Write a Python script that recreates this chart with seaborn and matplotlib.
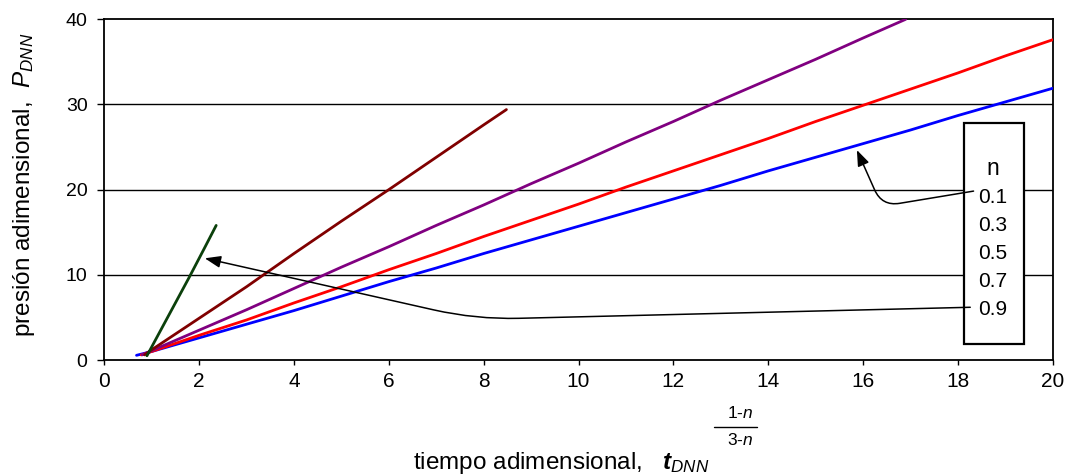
import matplotlib
matplotlib.use("Agg")
import matplotlib.pyplot as plt
from matplotlib.patches import Rectangle
from matplotlib.lines import Line2D
import seaborn as sns
import pandas as pd

# ---------------- data ----------------
n_labels = ["0.1", "0.3", "0.5", "0.7", "0.9"]
line_colors = ["#0000FF", "#FF0000", "#800080", "#800000", "#0B400B"]

x_n01 = [0.68, 1, 2, 3, 4, 5, 6, 7, 8, 9, 10, 11, 12, 13, 14, 15, 16, 17, 18, 19, 20]
y_n01 = [0.55, 1.0, 2.6, 4.2, 5.8, 7.5, 9.2, 10.8, 12.5, 14.1, 15.7, 17.3, 18.9, 20.5, 22.2, 23.8, 25.4, 27.0, 28.7, 30.3, 31.9]

x_n03 = [0.78, 1, 2, 3, 4, 5, 6, 7, 8, 9, 10, 11, 12, 13, 14, 15, 16, 17, 18, 19, 20]
y_n03 = [0.6, 1.0, 2.9, 4.7, 6.7, 8.6, 10.6, 12.5, 14.5, 16.4, 18.3, 20.3, 22.2, 24.1, 26.0, 28.0, 29.9, 31.8, 33.7, 35.7, 37.6]

x_n05 = [0.8, 1, 2, 3, 4, 5, 6, 7, 8, 9, 10, 11, 12, 13, 14, 15, 16, 16.9]
y_n05 = [0.6, 1.1, 3.5, 5.9, 8.4, 10.9, 13.3, 15.8, 18.2, 20.7, 23.1, 25.6, 28.0, 30.5, 32.9, 35.3, 37.8, 40.0]

x_n07 = [0.85, 1, 2, 3, 4, 5, 6, 7, 8, 8.48]
y_n07 = [0.6, 1.2, 4.9, 8.6, 12.5, 16.3, 20.0, 23.8, 27.6, 29.4]

x_n09 = [0.9, 1.2, 1.5, 1.8, 2.1, 2.36]
y_n09 = [0.5, 3.6, 6.7, 9.8, 13.0, 15.8]

x_ticks = [0, 2, 4, 6, 8, 10, 12, 14, 16, 18, 20]
y_ticks = [0, 10, 20, 30, 40]

frames = []
for lab, xs, ys in zip(n_labels,
                       [x_n01, x_n03, x_n05, x_n07, x_n09],
                       [y_n01, y_n03, y_n05, y_n07, y_n09]):
    frames.append(pd.DataFrame({"t": xs, "P": ys, "n": lab}))
df = pd.concat(frames, ignore_index=True)

# ---------------- style ----------------
sns.set_theme(style="white")
plt.rcParams["font.family"] = ["Liberation Sans", "DejaVu Sans"]
plt.rcParams["mathtext.fontset"] = "custom"
plt.rcParams["mathtext.rm"] = "Liberation Sans"
plt.rcParams["mathtext.it"] = "Liberation Sans:italic"
plt.rcParams["mathtext.bf"] = "Liberation Sans:bold"
plt.rcParams["mathtext.bfit"] = "Liberation Sans:italic:bold"
plt.rcParams["mathtext.sf"] = "Liberation Sans"

fig = plt.figure(figsize=(10.65, 4.75), dpi=100)
ax = fig.add_axes([0.0979, 0.2421, 0.8906, 0.7173])

sns.lineplot(data=df, x="t", y="P", hue="n", palette=dict(zip(n_labels, line_colors)),
             sort=False, estimator=None, linewidth=2.0, legend=False, ax=ax, zorder=3)

ax.set_xlim(0, 20)
ax.set_ylim(0, 40)
ax.set_xticks(x_ticks)
ax.set_yticks(y_ticks)
ax.set_xticklabels([str(v) for v in x_ticks])
ax.set_yticklabels([str(v) for v in y_ticks])

ax.grid(False)
for yv in y_ticks[1:-1]:
    ax.axhline(yv, color="black", lw=1.0, zorder=1)

for s in ax.spines.values():
    s.set_color("black")
    s.set_linewidth(1.3)
    s.set_visible(True)

ax.tick_params(axis="x", direction="out", length=3.5, width=1, color="black",
               labelsize=15, pad=5, labelcolor="black", bottom=True)
ax.tick_params(axis="y", direction="out", length=5, width=1, color="black",
               labelsize=14, pad=7, labelcolor="black", left=True)

# axis labels
ax.set_ylabel(r"presión adimensional,  $\mathit{P}_{\mathit{DNN}}$", fontsize=17.5,
              color="black", va="center")
ax.yaxis.set_label_coords(-0.085, 0.515)
ax.set_xlabel(r"tiempo adimensional,   $\mathbfit{t}_{\mathit{DNN}}$", fontsize=17.5,
              color="black", va="center")
ax.xaxis.set_label_coords(0.482, -0.303)

# exponent of t_DNN as a stacked fraction
fig.text(740 / 1065, 1 - 413 / 475, r"1-$\mathit{n}$", fontsize=12.5,
         ha="center", va="center", color="black")
fig.text(740 / 1065, 1 - 440 / 475, r"3-$\mathit{n}$", fontsize=12.5,
         ha="center", va="center", color="black")
fig.add_artist(Line2D([714 / 1065, 757 / 1065], [1 - 427 / 475] * 2,
                      transform=fig.transFigure, color="black", lw=1.0))

# legend-like text box
ax.add_patch(Rectangle((0.9065, 0.047), 0.0632, 0.6495, transform=ax.transAxes,
                       facecolor="white", edgecolor="black", lw=1.6, zorder=4))
box_labels = ["n"] + n_labels
baselines = [0.543, 0.460, 0.380, 0.297, 0.215, 0.132]
for lab, b in zip(box_labels, baselines):
    ax.text(0.9365, b, lab, transform=ax.transAxes, ha="center", va="baseline",
            fontsize=16.5 if lab == "n" else 15, color="black", zorder=5)

# arrows
ax.annotate("", xy=(2.12, 11.94), xytext=(18.26, 6.19),
            arrowprops=dict(arrowstyle="-|>,head_length=0.8,head_width=0.3",
                            mutation_scale=12, color="black", lw=1.1,
                            shrinkA=0, shrinkB=0,
                            connectionstyle="angle,angleA=1.4,angleB=-12.7,rad=43"),
            zorder=6)
ax.annotate("", xy=(15.87, 24.65), xytext=(18.33, 19.83),
            arrowprops=dict(arrowstyle="-|>,head_length=0.8,head_width=0.3",
                            mutation_scale=12, color="black", lw=1.1,
                            shrinkA=0, shrinkB=0,
                            connectionstyle="angle,angleA=9.4,angleB=-66,rad=18"),
            zorder=6)

fig.savefig("out.png", dpi=100, facecolor="white")
